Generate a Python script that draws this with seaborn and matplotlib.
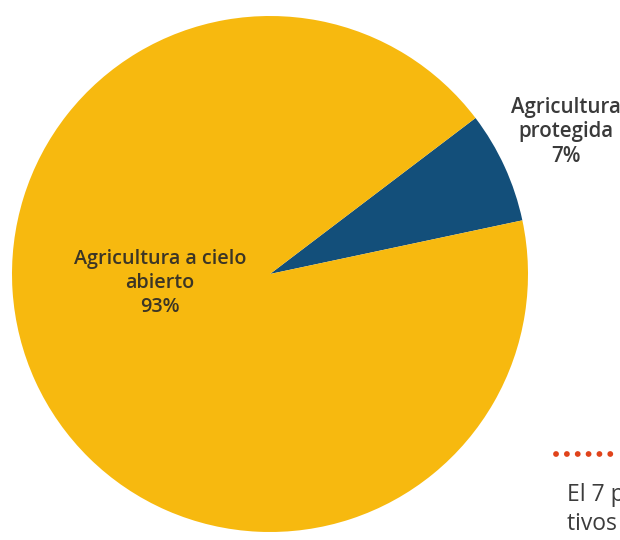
import matplotlib
matplotlib.use("Agg")
import matplotlib.pyplot as plt
import seaborn as sns

# Share of cultivated area by production system
categories = ["Agricultura protegida", "Agricultura a cielo abierto"]
shares = [7, 93]
labels = ["Agricultura\nprotegida\n7%", "Agricultura a cielo\nabierto\n93%"]
colors = ["#134f7a", "#f7b90f"]

sns.set_theme(style="white")
plt.rcParams["font.family"] = ["Open Sans", "DejaVu Sans"]

fig = plt.figure(figsize=(6.2, 5.4), dpi=100)
ax = fig.add_axes([0, 0, 1, 1])

wedges, _ = ax.pie(shares, colors=colors, startangle=12, counterclock=True,
                   center=(270, 266), radius=258,
                   wedgeprops=dict(linewidth=0), frame=True)
ax.set_xlim(0, 620)
ax.set_ylim(0, 540)
ax.set_aspect("equal")
ax.axis("off")

# Inside label for the large slice, outside label for the small one
ax.text(160, 257, labels[1], ha="center", va="center", fontsize=14.2,
        fontweight="semibold", color="#3b3526", linespacing=1.25)
ax.text(566, 408, labels[0], ha="center", va="center", fontsize=14.8,
        fontweight="semibold", color="#3a3a3a", linespacing=1.25)

# Side note with dotted separator
ax.plot([556, 640], [86, 86], color="#e0431b", linewidth=4.2,
        linestyle=(0, (0.01, 1.85)), dash_capstyle="round", clip_on=False)
ax.text(567, 10, "El 7 por ciento de los cul-\ntivos protegidos", ha="left",
        va="baseline", fontsize=16.5, color="#3c3c3c", linespacing=1.3)

fig.savefig("out.png", dpi=100)
